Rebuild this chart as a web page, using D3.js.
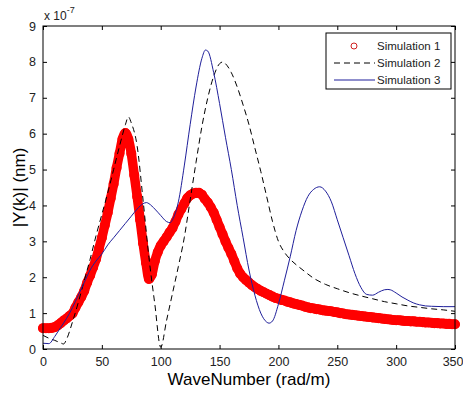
<!DOCTYPE html>
<html>
<head>
<meta charset="utf-8">
<script src="https://cdn.jsdelivr.net/npm/d3@7"></script>
<style>
  html, body { margin: 0; padding: 0; background: #fff; }
  svg { display: block; font-family: "Liberation Sans", Arial, sans-serif; }
</style>
</head>
<body>
<svg id="chart" width="463" height="394"></svg>
<script>
// wavenumber grid for simulation 1 (step 2.5 rad/m)
const sim1X = d3.range(0, 350.01, 2.5);
// |Y(k)| in units of 1e-7 nm
const sim1Y = [
  0.58, 0.58, 0.58, 0.59, 0.61, 0.66, 0.72, 0.79, 0.85, 0.92,
  0.99, 1.15, 1.30, 1.45, 1.62, 1.85, 2.05, 2.27, 2.50, 2.80,
  3.10, 3.45, 3.80, 4.20, 4.60, 5.05, 5.45, 5.85, 6.02, 5.85,
  5.45, 4.85, 4.25, 3.60, 2.95, 2.40, 1.95, 2.08, 2.45, 2.70,
  2.88, 3.00, 3.12, 3.25, 3.37, 3.55, 3.75, 3.90, 4.05, 4.20,
  4.28, 4.33, 4.35, 4.35, 4.30, 4.18, 4.08, 3.95, 3.80, 3.60,
  3.40, 3.20, 3.00, 2.82, 2.65, 2.45, 2.25, 2.10, 2.00, 1.92,
  1.85, 1.78, 1.72, 1.67, 1.62, 1.58, 1.54, 1.50, 1.46, 1.42,
  1.40, 1.37, 1.35, 1.32, 1.30, 1.27, 1.25, 1.23, 1.21, 1.18,
  1.16, 1.14, 1.13, 1.11, 1.10, 1.08, 1.07, 1.06, 1.05, 1.03,
  1.02, 1.00, 0.99, 0.97, 0.96, 0.95, 0.94, 0.93, 0.92, 0.91,
  0.90, 0.89, 0.88, 0.87, 0.86, 0.85, 0.84, 0.83, 0.82, 0.81,
  0.80, 0.80, 0.79, 0.78, 0.78, 0.77, 0.77, 0.76, 0.76, 0.75,
  0.74, 0.74, 0.73, 0.72, 0.72, 0.71, 0.71, 0.70, 0.70, 0.69,
  0.69
];

const sim2X = [0, 5, 10, 15, 17.5, 20, 25, 30, 35, 40, 45, 50, 55, 60, 65, 70, 72.5, 75, 80, 85, 90, 95, 100,
  105, 110, 115, 120, 125, 130, 135, 140, 145, 150, 153, 155, 160, 165, 170, 175, 180, 185, 190, 195, 200,
  205, 210, 215, 220, 230, 240, 250, 260, 270, 280, 290, 300, 310, 320, 330, 340, 350];
const sim2Y = [0.38, 0.30, 0.24, 0.17, 0.14, 0.27, 0.75, 1.30, 1.90, 2.50, 3.15, 3.75, 4.35, 5.00, 5.65, 6.25, 6.47, 6.30, 5.65, 4.15, 2.55, 1.25, 0.05,
  0.80, 1.55, 2.30, 3.10, 4.15, 5.20, 6.20, 7.00, 7.60, 7.95, 8.00, 7.95, 7.70, 7.30, 6.80, 6.25, 5.60, 4.95, 4.25, 3.55, 3.00,
  2.70, 2.50, 2.35, 2.22, 1.97, 1.80, 1.68, 1.57, 1.48, 1.40, 1.32, 1.26, 1.20, 1.16, 1.12, 1.09, 1.05];

const sim3X = [0, 5, 10, 15, 20, 25, 30, 35, 40, 45, 50, 55, 60, 65, 70, 75, 80, 85, 88, 90, 95, 100, 105, 108,
  110, 115, 120, 125, 130, 135, 138, 140, 145, 150, 155, 160, 165, 170, 175, 180, 185, 190, 192, 195, 200,
  205, 210, 215, 220, 225, 230, 235, 240, 245, 250, 255, 260, 265, 270, 275, 280, 285, 290, 293, 295, 300,
  305, 310, 315, 320, 325, 330, 340, 350];
const sim3Y = [0.16, 0.15, 0.35, 0.60, 0.85, 1.15, 1.50, 1.85, 2.20, 2.45, 2.65, 2.90, 3.10, 3.30, 3.50, 3.70, 3.90, 4.05, 4.08, 4.05, 3.90, 3.72, 3.55, 3.52,
  3.60, 4.10, 5.10, 6.25, 7.30, 8.10, 8.33, 8.30, 7.70, 6.84, 5.90, 5.00, 4.00, 3.10, 2.20, 1.50, 1.00, 0.75, 0.72, 0.78, 1.25,
  1.90, 2.57, 3.30, 3.85, 4.25, 4.45, 4.52, 4.40, 4.10, 3.60, 3.10, 2.60, 2.10, 1.72, 1.52, 1.50, 1.58, 1.65, 1.66, 1.65, 1.56,
  1.45, 1.36, 1.28, 1.23, 1.20, 1.19, 1.18, 1.18];

const xTicks = [0, 50, 100, 150, 200, 250, 300, 350];
const yTicks = [0, 1, 2, 3, 4, 5, 6, 7, 8, 9];
const seriesNames = ['Simulation 1', 'Simulation 2', 'Simulation 3'];

const margin = { top: 26, right: 8, bottom: 45, left: 43 };
const W = 463, H = 394;
const pw = W - margin.left - margin.right;
const ph = H - margin.top - margin.bottom;

const svg = d3.select('#chart');
const x = d3.scaleLinear().domain([0, 350]).range([0, pw]);
const y = d3.scaleLinear().domain([0, 9]).range([ph, 0]);

const g = svg.append('g').attr('transform', `translate(${margin.left},${margin.top})`);
const line = d3.line().x(d => x(d[0])).y(d => y(d[1])).curve(d3.curveMonotoneX);

// Simulation 1: markers are so dense in the original that they merge into a band
const s1 = sim1X.map((k, i) => [k, sim1Y[i]]);
g.append('path').datum(s1)
  .attr('d', line).attr('fill', 'none')
  .attr('stroke', '#ff0000').attr('stroke-width', 9.5)
  .attr('stroke-linecap', 'round').attr('stroke-linejoin', 'round');
g.selectAll('circle.s1').data(s1).enter().append('circle')
  .attr('class', 's1')
  .attr('cx', d => x(d[0])).attr('cy', d => y(d[1]))
  .attr('r', 4.3).attr('fill', 'none')
  .attr('stroke', '#ff0000').attr('stroke-width', 1.5);

// Simulation 2: black dashed
g.append('path').datum(sim2X.map((k, i) => [k, sim2Y[i]]))
  .attr('d', line).attr('fill', 'none')
  .attr('stroke', '#000').attr('stroke-width', 1).attr('stroke-dasharray', '6,4');

// Simulation 3: blue solid
g.append('path').datum(sim3X.map((k, i) => [k, sim3Y[i]]))
  .attr('d', line).attr('fill', 'none')
  .attr('stroke', '#1f1f9a').attr('stroke-width', 1);

// box + inward ticks on all sides
g.append('rect').attr('width', pw).attr('height', ph)
  .attr('fill', 'none').attr('stroke', '#000').attr('stroke-width', 1);

const tk = 4;
const axB = g.append('g').attr('transform', `translate(0,${ph})`)
  .call(d3.axisBottom(x).tickValues(xTicks).tickSizeInner(-tk).tickSizeOuter(0).tickPadding(8));
const axT = g.append('g')
  .call(d3.axisTop(x).tickValues(xTicks).tickSizeInner(-tk).tickSizeOuter(0).tickFormat(''));
const axL = g.append('g')
  .call(d3.axisLeft(y).tickValues(yTicks).tickSizeInner(-tk).tickSizeOuter(0).tickPadding(7));
const axR = g.append('g').attr('transform', `translate(${pw},0)`)
  .call(d3.axisRight(y).tickValues(yTicks).tickSizeInner(-tk).tickSizeOuter(0).tickFormat(''));

[axB, axT, axL, axR].forEach(a => {
  a.select('.domain').remove();
  a.selectAll('line').attr('stroke', '#000');
  a.selectAll('text').attr('fill', '#222')
    .style('font-size', '12.5px').style('font-family', '"Liberation Sans", Arial, sans-serif');
});
// last x label sits at the window edge; keep it inside
axB.selectAll('.tick').filter(d => d === 350).select('text')
  .attr('text-anchor', 'end').attr('x', 8);

// exponent label
const ex = svg.append('text').attr('x', 44).attr('y', 20).attr('fill', '#222').style('font-size', '12px');
ex.append('tspan').text('x 10');
ex.append('tspan').attr('dy', -7).style('font-size', '9px').text('-7');

// axis titles
svg.append('text')
  .attr('x', margin.left + pw / 2).attr('y', 385)
  .attr('text-anchor', 'middle').attr('fill', '#000')
  .style('font-size', '17px').text('WaveNumber (rad/m)');

svg.append('text')
  .attr('transform', `translate(25,${margin.top + ph / 2}) rotate(-90)`)
  .attr('text-anchor', 'middle').attr('fill', '#000')
  .style('font-size', '17px').text('|Y(k)| (nm)');

// legend
const lg = svg.append('g').attr('transform', 'translate(326,33)');
lg.append('rect').attr('width', 125).attr('height', 56)
  .attr('fill', '#fff').attr('stroke', '#000').attr('stroke-width', 1);
const rows = [13, 30, 47];
seriesNames.forEach((name, i) => {
  const ry = rows[i];
  if (i === 0) {
    lg.append('circle').attr('cx', 28).attr('cy', ry).attr('r', 3)
      .attr('fill', 'none').attr('stroke', '#d02020').attr('stroke-width', 1);
  } else {
    lg.append('line').attr('x1', 8).attr('x2', 49).attr('y1', ry).attr('y2', ry)
      .attr('stroke', i === 1 ? '#000' : '#1f1f9a').attr('stroke-width', 1)
      .attr('stroke-dasharray', i === 1 ? '6,4' : null);
  }
  lg.append('text').attr('x', 51).attr('y', ry + 4).attr('fill', '#222')
    .style('font-size', '11.5px').text(name);
});
</script>
</body>
</html>
